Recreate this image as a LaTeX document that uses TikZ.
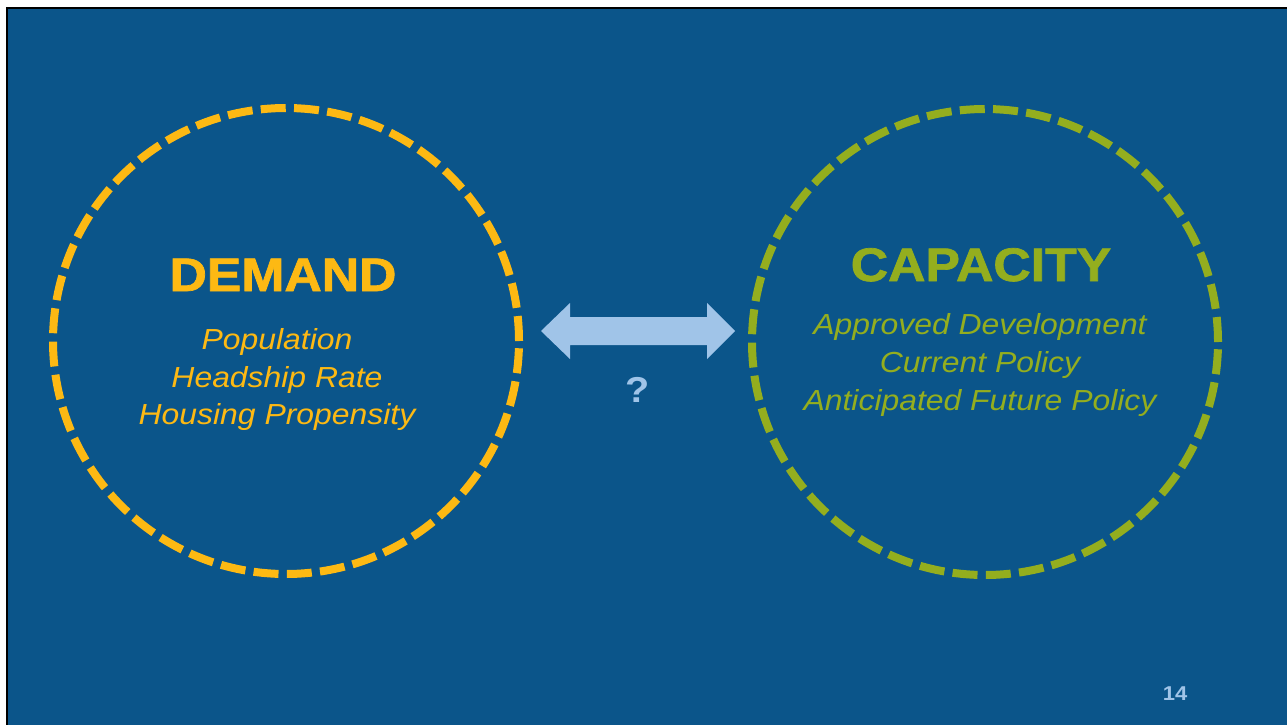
\documentclass[tikz,border=0pt]{standalone}
\usepackage{fontspec}
\setmainfont{Liberation Sans}
\newfontfamily\heavyfont{Liberation Sans Bold}[FakeBold=1.5]
\newfontfamily\boldfont{Liberation Sans Bold}
\newfontfamily\itfont{Liberation Sans Italic}
\usetikzlibrary{calc}
\definecolor{bgblue}{RGB}{11,85,138}
\definecolor{demandc}{RGB}{253,185,19}
\definecolor{capc}{RGB}{148,174,30}
\definecolor{arrowc}{RGB}{160,196,232}
\tikzset{
  ring/.style={circle, minimum size=466pt, inner sep=0pt, line width=8pt, dash pattern=on 25pt off 8.3pt},
  title/.style={font=\heavyfont\fontsize{47}{47}\selectfont, xscale=1.1, inner sep=0pt, anchor=base},
  item/.style={font=\itfont\fontsize{29}{29}\selectfont, xscale=1.1, inner sep=0pt, anchor=base},
  mark label/.style={text=arrowc, xscale=1.1, inner sep=0pt, anchor=base},
}
\begin{document}
\begin{tikzpicture}[x=1pt,y=-1pt]
\useasboundingbox (0,0) rectangle (1287,725);
\fill[white] (0,0) rectangle (1287,725);
\fill[bgblue] (7,8) rectangle (1287,725);
\draw[black, line width=2pt] (7,725) -- (7,8) -- (1287,8);

\node[ring, draw=demandc] (demand) at (286,341) {};
\node[ring, draw=capc] (capacity) at (985,342) {};

\node[title, text=demandc] (dt) at (283,291) {DEMAND};
\node[item, text=demandc] (d1) at (277,349) {Population};
\node[item, text=demandc] (d2) at (277,387) {Headship Rate};
\node[item, text=demandc] (d3) at (277,424) {Housing Propensity};

\node[title, text=capc] (ct) at (981,281) {CAPACITY};
\node[item, text=capc] (c1) at (980,334) {Approved Development};
\node[item, text=capc] (c2) at (980,372) {Current Policy};
\node[item, text=capc] (c3) at (980,410) {Anticipated Future Policy};

% double-headed block arrow between the circles
\coordinate (la) at (541,331);
\coordinate (ra) at (735,331);
\fill[arrowc] (la) -- ++(29,-28) -- ++(0,14) -- ($(ra)+(-28,-14)$) -- ++(0,-14) -- (ra)
  -- ++(-28,28) -- ++(0,-14) -- ($(la)+(29,14)$) -- ++(0,14) -- cycle;

\node[mark label, font=\boldfont\fontsize{36}{36}\selectfont] (q) at (638,402) {?};
\node[mark label, font=\boldfont\fontsize{20}{20}\selectfont] (pg) at (1175,700) {14};
\end{tikzpicture}
\end{document}
